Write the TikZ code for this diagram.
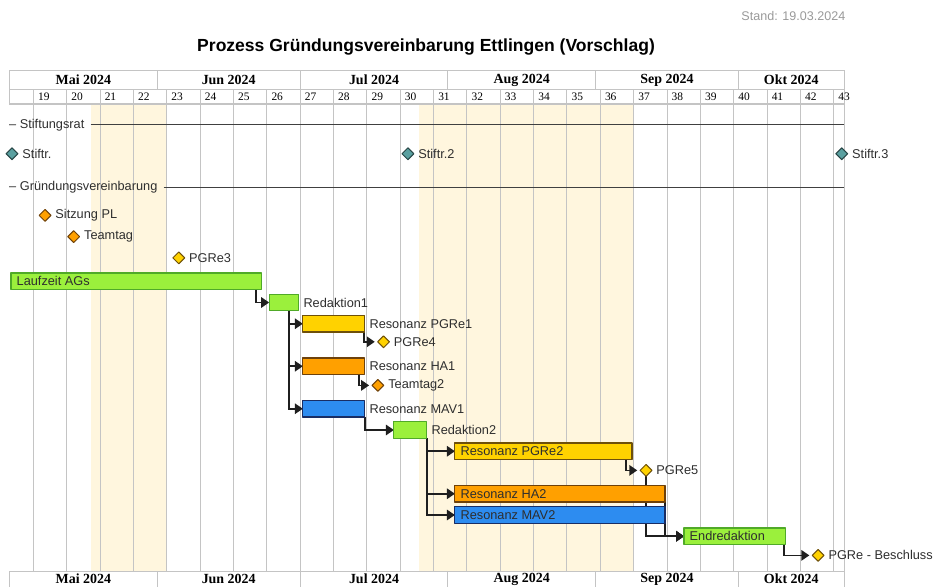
\documentclass[tikz,border=0pt]{standalone}
\usepackage{fontspec}
\setmainfont{Liberation Sans}
\newfontfamily\timesfont{Liberation Serif}
\usetikzlibrary{shapes.geometric,arrows.meta,positioning}
\pgfdeclarelayer{grid}
\pgfdeclarelayer{links}
\pgfsetlayers{grid,links,main}
\definecolor{ferien}{RGB}{255,246,222}
\definecolor{gitter}{RGB}{196,196,196}
\definecolor{gruen}{RGB}{155,240,60}
\definecolor{gruenR}{RGB}{80,170,40}
\definecolor{gelb}{RGB}{255,210,0}
\definecolor{gelbR}{RGB}{110,80,10}
\definecolor{orangeF}{RGB}{255,160,0}
\definecolor{orangeFR}{RGB}{110,65,10}
\definecolor{blau}{RGB}{45,140,240}
\definecolor{blauR}{RGB}{25,45,100}
\definecolor{petrol}{RGB}{90,160,160}
\definecolor{petrolR}{RGB}{40,70,70}
\begin{document}
\begin{tikzpicture}[x=33.35bp, y=-21.25bp, >={Triangle[length=8bp,width=10.5bp]}, font=\fontsize{12.8}{14}\selectfont, line join=round,
	bar/.style={draw=#1R, fill=#1, line width=1.1bp, minimum height=16.5bp, inner sep=0pt, outer sep=0pt, anchor=west},
	ms/.style={diamond, aspect=1, minimum width=13.5bp, minimum height=13.5bp, inner sep=0pt, outer sep=2bp, line width=1bp, draw=#1R, fill=#1},
	lbl/.style={inner sep=1.5bp, text=black!82},
	link/.style={->, draw=black!88, line width=1.6bp},
	grpline/.style={draw=black!75, line width=1bp},
	wknum/.style={font=\timesfont\fontsize{11.5}{13}\selectfont, inner sep=0pt, anchor=west},
	monat/.style={font=\timesfont\bfseries\fontsize{14}{16}\selectfont}]
	\def\wk{33.35bp} % eine Woche
	\def\li{18.286} \def\re{43.31}
	\useasboundingbox (18,-0.235) rectangle (46.006,27.388);
	\coordinate (re) at (\re,0);
	% Kopf
	\node[anchor=east, text=black!40, font=\fontsize{12.6}{14}\selectfont] (stand) at (43.45,0.52) {Stand: 19.03.2024};
	\node[font=\bfseries\fontsize{17.6}{20}\selectfont] (titel) at (30.774,1.98) {Prozess Gründungsvereinbarung Ettlingen (Vorschlag)};
	\begin{pgfonlayer}{grid}
	\fill[ferien] (20.714,4.67) rectangle (23,26.64);
	\fill[ferien] (30.571,4.67) rectangle (37,26.64);
	\foreach \w in {19,...,43} \draw[gitter, line width=1bp] (\w,3.97) -- (\w,26.64);
	\draw[gitter, line width=1bp] (\li,3.09) rectangle (\re,4.67);
	\draw[gitter, line width=1bp] (\li,3.97) -- (\re,3.97);
	\draw[gitter, line width=1.6bp] (\li,4.67) -- (\re,4.67);
	\draw[gitter, line width=1bp] (\re,4.67) -- (\re,26.64);
	\draw[gitter, line width=1bp] (\li,27.8) -- (\li,26.64) -- (\re,26.64) -- (\re,27.8);
	\foreach \a/\b/\m in {18.286/22.714/Mai,22.714/27/Jun,27/31.429/Jul,31.429/35.857/Aug,35.857/40.143/Sep,40.143/43.31/Okt}{
		\draw[gitter, line width=1bp] (\b,3.09) -- (\b,3.97) (\b,26.64) -- (\b,27.8);
		\node[monat] (o\m) at ({(\a+\b)/2},3.53) {\m\ 2024};
		\node[monat] (u\m) at ({(\a+\b)/2},27.01) {\m\ 2024};
	}
	\foreach \w in {19,...,43} \node[wknum] (w\w) at ([xshift=4.5bp]\w,4.33) {\w};
	\end{pgfonlayer}
	% Gruppen
	\node[lbl, anchor=west, inner sep=0pt] (grp1) at (18.27,5.647) {– Stiftungsrat};
	\draw[grpline] ([xshift=6bp]grp1.east) -- (grp1.east -| re);
	\node[lbl, anchor=west, inner sep=0pt] (grp2) at (18.27,8.565) {– Gründungsvereinbarung};
	\draw[grpline] ([xshift=6bp]grp2.east) -- (grp2.east -| re);
	% Meilensteine
	\node[ms=petrol] (stiftr1) at (18.36,7) {};
	\node[lbl, right=0pt of stiftr1] (stiftr1L) {Stiftr.};
	\node[ms=petrol] (stiftr2) at (30.23,7) {};
	\node[lbl, right=0pt of stiftr2] (stiftr2L) {Stiftr.2};
	\node[ms=petrol] (stiftr3) at (43.24,7) {};
	\node[lbl, right=0pt of stiftr3] (stiftr3L) {Stiftr.3};
	\node[ms=orangeF] (sitzung) at (19.35,9.9) {};
	\node[lbl, right=0pt of sitzung] (sitzungL) {Sitzung PL};
	\node[ms=orangeF] (teamtag) at (20.21,10.9) {};
	\node[lbl, right=0pt of teamtag] (teamtagL) {Teamtag};
	\node[ms=gelb] (pgre3) at (23.36,11.9) {};
	\node[lbl, right=0pt of pgre3] (pgre3L) {PGRe3};
	\node[ms=gelb] (pgre4) at (29.5,15.85) {};
	\node[lbl, right=0pt of pgre4] (pgre4L) {PGRe4};
	\node[ms=orangeF] (teamtag2) at (29.33,17.9) {};
	\node[lbl, right=0pt of teamtag2] (teamtag2L) {Teamtag2};
	\node[ms=gelb] (pgre5) at (37.37,21.9) {};
	\node[lbl, right=0pt of pgre5] (pgre5L) {PGRe5};
	\node[ms=gelb] (beschluss) at (42.53,25.9) {};
	\node[lbl, right=0pt of beschluss] (beschlussL) {PGRe - Beschluss};
	% Vorgaenge
	\node[bar=gruen, minimum width=7.5*\wk] (lauf) at (18.33,13) {};
	\node[lbl, right=4bp of lauf.west] (laufL) {Laufzeit AGs};
	\node[bar=gruen, minimum width=0.89*\wk] (red1) at (26.07,14) {};
	\node[lbl, right=3bp of red1] (red1L) {Redaktion1};
	\node[bar=gelb, minimum width=1.86*\wk] (reso1) at (27.08,15) {};
	\node[lbl, right=3bp of reso1] (reso1L) {Resonanz PGRe1};
	\node[bar=orangeF, minimum width=1.86*\wk] (ha1) at (27.08,17) {};
	\node[lbl, right=3bp of ha1] (ha1L) {Resonanz HA1};
	\node[bar=blau, minimum width=1.86*\wk] (mav1) at (27.08,19) {};
	\node[lbl, right=3bp of mav1] (mav1L) {Resonanz MAV1};
	\node[bar=gruen, minimum width=0.99*\wk] (red2) at (29.81,20) {};
	\node[lbl, right=3bp of red2] (red2L) {Redaktion2};
	\node[bar=gelb, minimum width=5.31*\wk] (reso2) at (31.64,21) {};
	\node[lbl, right=4bp of reso2.west] (reso2L) {Resonanz PGRe2};
	\node[bar=orangeF, minimum width=6.3*\wk] (ha2) at (31.64,23) {};
	\node[lbl, right=4bp of ha2.west] (ha2L) {Resonanz HA2};
	\node[bar=blau, minimum width=6.3*\wk] (mav2) at (31.64,24) {};
	\node[lbl, right=4bp of mav2.west] (mav2L) {Resonanz MAV2};
	\node[bar=gruen, minimum width=3.03*\wk] (endred) at (38.51,25) {};
	\node[lbl, right=4bp of endred.west] (endredL) {Endredaktion};
	% Abhaengigkeiten
	\begin{pgfonlayer}{links}
	\draw[link] ([xshift=-5bp]lauf.south east) |- (red1);
	\foreach \t in {reso1,ha1,mav1} \draw[link] ([xshift=-10bp]red1.south east) |- (\t);
	\draw[link] ([xshift=-1bp]reso1.south east) |- (pgre4);
	\draw[link] ([xshift=-6bp]ha1.south east) |- (teamtag2);
	\draw[link] (mav1.south east) |- (red2);
	\foreach \t in {reso2,ha2,mav2} \draw[link] (red2.south east) |- (\t);
	\draw[link] ([xshift=-6bp]reso2.south east) |- (pgre5);
	\draw[link] (pgre5.center) |- (endred);
	\draw[link] (ha2.south east) |- (endred);
	\draw[link] (mav2.south east) |- (endred);
	\draw[link] ([xshift=-1bp]endred.south east) |- (beschluss);
	\end{pgfonlayer}
\end{tikzpicture}
\end{document}
